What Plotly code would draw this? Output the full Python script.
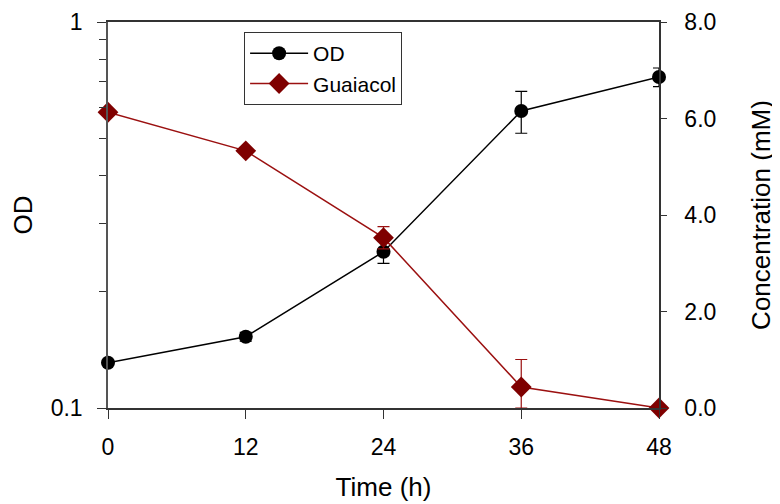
import plotly.graph_objects as go

time_h = [0, 12, 24, 36, 48]
od = [0.131, 0.153, 0.254, 0.588, 0.72]
od_err = [0.0, 0.004, 0.017, 0.073, 0.04]
guaiacol = [6.13, 5.33, 3.53, 0.435, 0.0]
guaiacol_err_plus = [0.0, 0.0, 0.23, 0.57, 0.0]
guaiacol_err_minus = [0.0, 0.0, 0.23, 0.435, 0.0]

font_family = "Liberation Sans, Arial, sans-serif"
dark_red = "#7f0000"
line_red = "#9b1010"

fig = go.Figure()

fig.add_trace(go.Scatter(
    x=time_h, y=od, name="OD", mode="lines+markers",
    line=dict(color="black", width=1.5),
    marker=dict(symbol="circle", size=14, color="black"),
    error_y=dict(type="data", array=od_err, visible=True, color="black", thickness=1.2, width=6),
    cliponaxis=False, yaxis="y",
))

fig.add_trace(go.Scatter(
    x=time_h, y=guaiacol, name="Guaiacol", mode="lines+markers",
    line=dict(color=line_red, width=1.5),
    marker=dict(symbol="diamond", size=16, color=dark_red),
    error_y=dict(type="data", array=guaiacol_err_plus, arrayminus=guaiacol_err_minus,
                 visible=True, color=line_red, thickness=1.2, width=6),
    cliponaxis=False, yaxis="y2",
))

fig.update_layout(
    width=772, height=496,
    margin=dict(l=100, r=121, t=14, b=96, autoexpand=False),
    paper_bgcolor="white", plot_bgcolor="white",
    font=dict(family=font_family, size=23, color="black"),
    showlegend=True,
    legend=dict(
        x=0.247, y=0.974, xanchor="left", yanchor="top",
        bordercolor="#333", borderwidth=1, bgcolor="white",
        font=dict(size=21), tracegroupgap=0, itemwidth=58,
    ),
    xaxis=dict(
        range=[0, 48], tickvals=time_h, ticktext=[str(t) for t in time_h],
        ticks="outside", ticklen=9, tickcolor="#333", tickwidth=1.2,
        showline=True, linecolor="#333", linewidth=1.5, mirror=True,
        showgrid=False, zeroline=False, automargin=False,
        title=dict(text="Time (h)", font=dict(size=26), standoff=18),
        tickfont=dict(size=23), ticklabelstandoff=9,
    ),
    yaxis=dict(
        type="log", range=[-1, 0], dtick=1,
        ticks="outside", ticklen=9, tickcolor="#333", tickwidth=1.2,
        minor=dict(ticks="outside", ticklen=7, tickcolor="#333", tickwidth=1.2, dtick="D1", showgrid=False),
        showline=True, linecolor="#555", linewidth=1.5,
        showgrid=False, zeroline=False, automargin=False,
        title=dict(text="OD", font=dict(size=26), standoff=20),
        tickfont=dict(size=23), ticklabelstandoff=10,
    ),
    yaxis2=dict(
        overlaying="y", side="right", range=[0, 8], dtick=2, tickformat=".1f",
        ticks="outside", ticklen=6, tickcolor="#333", tickwidth=1.2,
        showline=True, linecolor="#333", linewidth=1.5,
        showgrid=False, zeroline=False, automargin=False,
        title=dict(text="Concentration (mM)", font=dict(size=26), standoff=36),
        tickfont=dict(size=23), ticklabelstandoff=13,
    ),
)

fig.write_html("out.html")
